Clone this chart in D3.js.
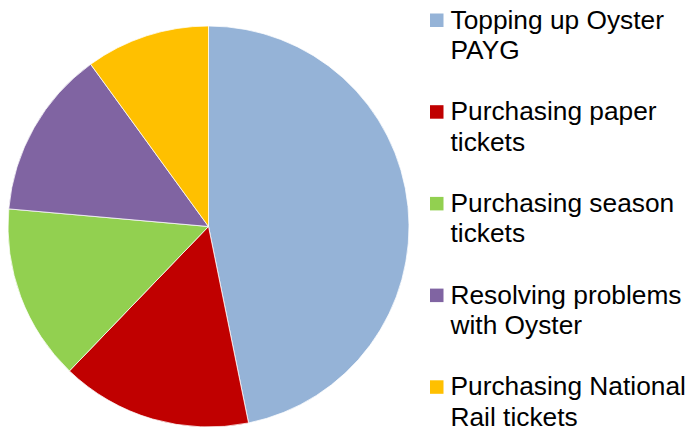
<!DOCTYPE html>
<html><head><meta charset="utf-8">
<script src="https://cdn.jsdelivr.net/npm/d3@7"></script>
<style>html,body{margin:0;padding:0;background:#fff;}svg{display:block;}</style>
</head><body>
<script>
const categories = ["Topping up Oyster PAYG","Purchasing paper tickets","Purchasing season tickets","Resolving problems with Oyster","Purchasing National Rail tickets"];
const legendLines = [["Topping up Oyster","PAYG"],["Purchasing paper","tickets"],["Purchasing season","tickets"],["Resolving problems","with Oyster"],["Purchasing National","Rail tickets"]];
const values = [46.8, 15.4, 14.2, 13.6, 10.0];
const colors = ["#95B3D7","#C00000","#92D050","#8064A2","#FFC000"];

const W = 690, H = 429;
const svg = d3.select("body").append("svg").attr("width", W).attr("height", H);
const cx = 208.5, cy = 226.5, r = 200.5;
const pie = d3.pie().sort(null).value(d => d)(values);
const arc = d3.arc().innerRadius(0).outerRadius(r);
const color = d3.scaleOrdinal().domain(d3.range(values.length)).range(colors);
svg.append("g").attr("transform", `translate(${cx},${cy})`)
  .selectAll("path").data(pie).join("path")
  .attr("d", arc).attr("fill", (d,i) => color(i))
  .attr("stroke", "#fff").attr("stroke-width", 0.75);

const lg = svg.append("g").attr("font-family", "Liberation Sans, Arial, sans-serif").attr("font-size", 26.3).attr("fill", "#000");
const step = 91.7, lineH = 30.5, y0 = 28.5;
legendLines.forEach((lines, i) => {
  const by = y0 + i*step;
  lg.append("rect").attr("x", 430).attr("y", by - 15).attr("width", 13.5).attr("height", 13.5).attr("fill", color(i));
  const t = lg.append("text").attr("x", 450.5).attr("y", by);
  lines.forEach((l, j) => t.append("tspan").attr("x", 450.5).attr("y", by + j*lineH).text(l));
});
</script>
</body></html>
